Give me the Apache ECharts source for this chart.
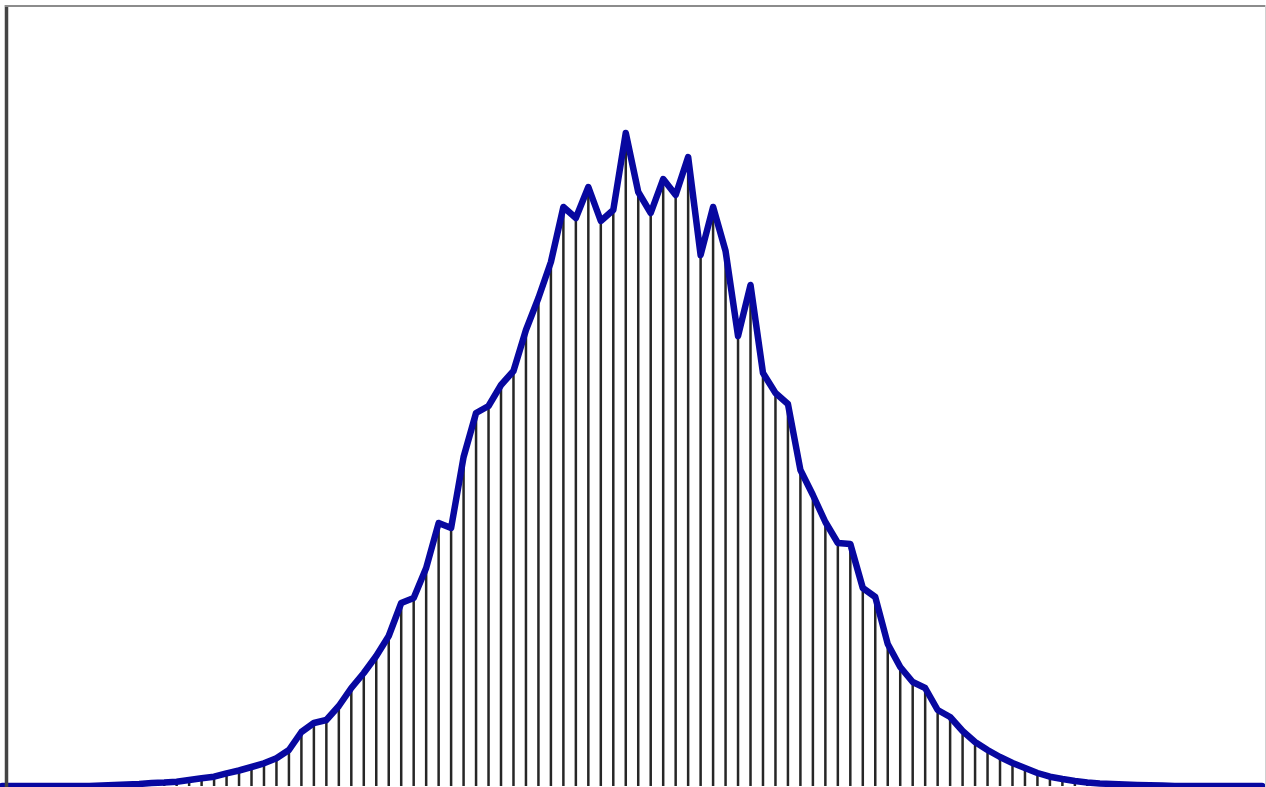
<!DOCTYPE html>
<html><head><meta charset="utf-8">
<script src="https://cdn.jsdelivr.net/npm/echarts@6/dist/echarts.min.js"></script>
<style>html,body{margin:0;padding:0;background:#fff;overflow:hidden}#c{width:1266px;height:787px}</style>
</head><body><div id="c"></div>
<script>
// bin indices (categories)
const categories = Array.from({length: 102}, (_, i) => String(i + 1));
// bin heights
const counts = [
  0, 0, 0, 0, 0, 0, 0, 0, 0.5, 1,
  1.5, 2, 3, 3.5, 4.3, 6, 7.7, 9.3, 12.7, 15.5,
  19, 22.7, 27.7, 36, 54, 63, 66, 80, 98, 113,
  130, 150, 183, 188, 218, 263, 258, 329, 373, 380,
  401, 415, 456, 488, 524, 579, 568, 599, 565, 576,
  653, 594, 573, 607, 591, 629, 531, 579, 535, 450,
  501, 413, 393, 382, 316, 291, 264, 243, 242, 198,
  189, 142, 119, 104, 98, 76, 69, 55, 44, 36,
  29, 23, 18, 13, 9.3, 7, 5, 3.5, 2.5, 2,
  1.5, 1, 0.7, 0.5, 0, 0, 0, 0, 0, 0,
  0, 0
];
const yMax = 780;

const chart = echarts.init(document.getElementById('c'), null, {renderer: 'canvas'});
chart.setOption({
  animation: false,
  backgroundColor: '#ffffff',
  grid: {left: 2, right: 4, top: 6, bottom: 1, containLabel: false},
  xAxis: {type: 'category', data: categories, boundaryGap: false, show: false},
  yAxis: {type: 'value', min: 0, max: yMax, show: false},
  graphic: [
    {type: 'line', shape: {x1: 6.5, y1: 5, x2: 6.5, y2: 787}, style: {stroke: '#444444', lineWidth: 3.5}, z: 100},
    {type: 'line', shape: {x1: 5, y1: 6, x2: 1266, y2: 6}, style: {stroke: '#8c8c8c', lineWidth: 2}, z: 100},
    {type: 'line', shape: {x1: 1265.5, y1: 5, x2: 1265.5, y2: 787}, style: {stroke: '#d0d0d0', lineWidth: 1}, z: 100}
  ],
  series: [
    {
      type: 'bar', data: counts, barWidth: 2.5,
      itemStyle: {color: '#262626'}, z: 2
    },
    {
      type: 'line', data: counts, symbol: 'none', smooth: false, clip: false,
      lineStyle: {color: '#0808a0', width: 6.5, cap: 'round', join: 'round'}, z: 3
    }
  ]
});
</script>
</body></html>
